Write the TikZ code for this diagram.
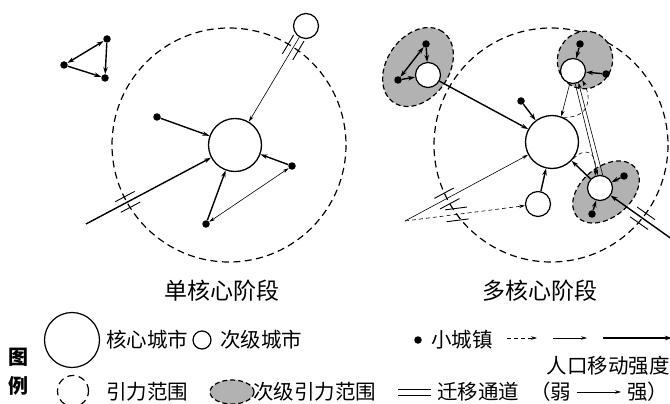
\documentclass[tikz,border=0pt]{standalone}
\usepackage{fontspec}
\setmainfont{Noto Sans CJK SC}
\usetikzlibrary{arrows.meta,calc,shapes.geometric}

\tikzset{
  core/.style     = {circle, draw, line width=1.3pt, minimum size=53pt, inner sep=0pt, fill=white},
  second/.style   = {circle, draw, line width=1.2pt, minimum size=25pt, inner sep=0pt, fill=white},
  town/.style     = {circle, fill, minimum size=7.5pt, inner sep=0pt},
  field/.style    = {line width=1.2pt, dash pattern=on 7pt off 4.5pt},
  subfield/.style = {ellipse, draw, fill=black!30, line width=1.2pt, dash pattern=on 5pt off 3pt, inner sep=0pt},
  strong/.style   = {line width=1.4pt, ->, >={Stealth[length=7pt,width=4.5pt]}},
  medium/.style   = {line width=0.6pt, ->, >={Stealth[length=6pt,width=3.5pt]}},
  weak/.style     = {medium, dash pattern=on 4pt off 3pt},
  tdline/.style   = {line width=0.9pt},
  title/.style    = {font=\fontsize{23}{25}\selectfont},
  lbl/.style      = {font=\fontsize{20.5}{23}\selectfont, inner sep=0pt},
}

% migration channel: two short lines beside a connector
\newcommand\tongdao[3]{%
  \coordinate (td) at ($(#1)!#3!(#2)$);
  \draw[tdline] ($(td)!11pt!(#2)!6pt!90:(#2)$) -- ($(td)!-11pt!(#2)!6pt!90:(#2)$)
                ($(td)!11pt!(#2)!-6pt!90:(#2)$) -- ($(td)!-11pt!(#2)!-6pt!90:(#2)$);
}

\begin{document}
\begin{tikzpicture}[x=1pt, y=-1pt]
  \useasboundingbox (0,0) rectangle (670,404);

  % single core stage
  \draw[field] (229,145) circle (117);
  \node[core]   (coreA) at (235,145) {};
  \node[second] (subA)  at (306,26)  {};
  \node[town] (tA1) at (64,65)   {};
  \node[town] (tA2) at (107,39)  {};
  \node[town] (tA3) at (105,78)  {};
  \node[town] (tA4) at (157,117) {};
  \node[town] (tA5) at (292,166) {};
  \node[town] (tA6) at (206,224) {};
  \coordinate (inA) at (86,224);

  \draw[strong,<->] (tA1) -- (tA2);
  \draw[strong] (tA2) -- (tA3);
  \draw[strong] (tA1) -- (tA3);
  \draw[strong] (tA4) -- (coreA);
  \draw[strong] (tA5) -- (coreA);
  \draw[strong] (tA6) -- (coreA);
  \draw[medium,<->] (tA6) -- (tA5);
  \draw[strong] (inA) -- (coreA);
  \draw[medium] (subA) -- (coreA);
  \tongdao{inA}{coreA}{0.28}
  \tongdao{subA}{coreA}{0.18}

  % multi core stage
  \draw[field] (551,145) circle (117);
  \node[subfield, minimum width=86pt, minimum height=62pt, rotate=55] (rgB1) at (418,67)  {};
  \node[subfield, minimum width=58pt, minimum height=55pt, rotate=70] (rgB2) at (585,60)  {};
  \node[subfield, minimum width=76pt, minimum height=50pt, rotate=40] (rgB3) at (606,192) {};
  \node[core]   (coreB) at (552,142) {};
  \node[second] (subB1) at (428,75)  {};
  \node[second] (subB2) at (573,71)  {};
  \node[second] (subB3) at (600,188) {};
  \node[second] (subB4) at (538,204) {};
  \node[town] (tB1) at (426,44)  {};
  \node[town] (tB2) at (398,80)  {};
  \node[town] (tB3) at (580,44)  {};
  \node[town] (tB4) at (606,74)  {};
  \node[town] (tB5) at (624,176) {};
  \node[town] (tB6) at (592,214) {};
  \node[town] (tB7) at (521,101) {};
  \coordinate (inB) at (405,221);
  \coordinate (inC) at (676,242);

  \draw[strong,<->] (tB2) -- (tB1);
  \draw[strong] (tB1) -- (subB1);
  \draw[strong] (tB2) -- (subB1);
  \draw[strong] (subB1) -- (coreB);
  \draw[strong] (tB3) -- (subB2);
  \draw[strong] (tB4) -- (subB2);
  \draw[strong] (tB5) -- (subB3);
  \draw[strong] (tB6) -- (subB3);
  \draw[strong] (subB3) -- (coreB);
  \draw[strong] (subB4) -- (coreB);
  \draw[strong] (tB7) -- (coreB);
  \draw[medium] (subB2) -- (coreB.70);
  \draw[medium] (subB2.-80) -- (subB3.100);
  \draw[medium] (subB3.78) -- (subB2.-65);
  \draw[weak] (coreB.65) .. controls (590,118) and (592,98) .. (subB2.-45);
  \draw[weak] (coreB.-38) .. controls (586,146) and (597,152) .. (subB3.112);
  \draw[medium] (inB) -- (coreB);
  \draw[weak] (inB) -- (subB4);
  \draw[strong] (inC) -- (subB3);
  \tongdao{inB}{coreB}{0.285}
  \tongdao{inB}{subB4}{0.39}
  \tongdao{inC}{subB3}{0.44}

  \node[title] (ttlA) at (222,291) {单核心阶段};
  \node[title] (ttlB) at (540,291) {多核心阶段};

  % legend
  \node[font=\bfseries\fontsize{20}{20}\selectfont, inner sep=0pt] (tu) at (19,357) {图};
  \node[font=\bfseries\fontsize{20}{20}\selectfont, inner sep=0pt] (li) at (19,386) {例};
  \node[circle, draw, line width=1.2pt, minimum size=55pt] (lgCore) at (72,340) {};
  \node[lbl, anchor=west] (lgCoreT) at (106,340) {核心城市};
  \node[circle, draw, line width=1.2pt, minimum size=18pt] (lgSub) at (202,340) {};
  \node[lbl, anchor=west] (lgSubT) at (220,340) {次级城市};
  \node[town] (lgTown) at (418,340) {};
  \node[lbl, anchor=west] (lgTownT) at (431,340) {小城镇};
  \coordinate (w1) at (507,338);
  \coordinate (w2) at (537,338);
  \coordinate (m1) at (553,338);
  \coordinate (m2) at (587,338);
  \coordinate (s1) at (603,338);
  \coordinate (s2) at (672,338);
  \draw[weak] (w1) -- (w2);
  \draw[medium] (m1) -- (m2);
  \draw[strong] (s1) -- (s2);
  \node[lbl, anchor=east] (lgFlow) at (670,366) {人口移动强度};
  \node[circle, draw, field, minimum size=31pt] (lgField) at (73,391) {};
  \node[lbl, anchor=west] (lgFieldT) at (106,392) {引力范围};
  \node[subfield, minimum width=44pt, minimum height=24pt] (lgSubField) at (232,392) {};
  \node[lbl, anchor=west] (lgSubFieldT) at (253,392) {次级引力范围};
  \coordinate (c1) at (398,389);
  \coordinate (c2) at (431,389);
  \coordinate (c3) at (398,395);
  \coordinate (c4) at (431,395);
  \draw[tdline] (c1) -- (c2) (c3) -- (c4);
  \node[lbl, anchor=west] (lgChT) at (437,392) {迁移通道};
  \node[lbl, anchor=west] (lgWeak) at (530,392) {（弱};
  \node[lbl, anchor=west] (lgStrong) at (627,392) {强）};
  \draw[medium, shorten <=6pt, shorten >=6pt] (lgWeak.east) -- (lgStrong.west);
\end{tikzpicture}
\end{document}
